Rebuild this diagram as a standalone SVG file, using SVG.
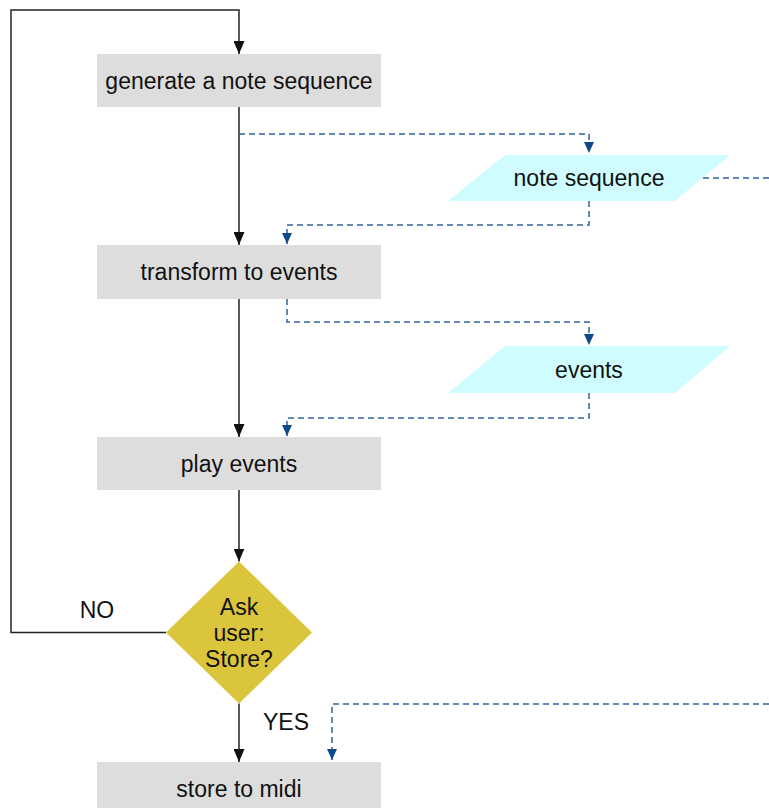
<svg xmlns="http://www.w3.org/2000/svg" width="769" height="808" viewBox="0 0 769 808">
<defs>
<style>
.box{fill:#dddddd;}
.data{fill:#cffcfe;}
.dec{fill:#dac53c;}
.t{font-family:"Liberation Sans",Arial,Helvetica,sans-serif;font-size:23px;fill:#111111;text-anchor:middle;dominant-baseline:central;}
.flow{fill:none;stroke:#222;stroke-width:1.5;}
.dash{fill:none;stroke:#30629c;stroke-width:1.5;stroke-dasharray:6 4;}
</style>
<marker id="ab" markerUnits="userSpaceOnUse" viewBox="0 0 13 11" markerWidth="13" markerHeight="11" refX="13" refY="5.5" orient="auto">
<path d="M0,0 L13,5.5 L0,11 z" fill="#111"/>
</marker>
<marker id="abl" markerUnits="userSpaceOnUse" viewBox="0 0 11 10" markerWidth="11" markerHeight="10" refX="11" refY="5" orient="auto">
<path d="M0,0 L11,5 L0,10 z" fill="#0d4a8c"/>
</marker>
</defs>
<rect width="769" height="808" fill="#ffffff"/>
<g id="connectors">
<polyline class="flow" points="166,632.5 11,632.5 11,10 239,10 239,54" marker-end="url(#ab)"/>
<line class="flow" x1="239" y1="107" x2="239" y2="245" marker-end="url(#ab)"/>
<line class="flow" x1="239" y1="299" x2="239" y2="437" marker-end="url(#ab)"/>
<line class="flow" x1="239" y1="490" x2="239" y2="561.5" marker-end="url(#ab)"/>
<line class="flow" x1="239" y1="703.5" x2="239" y2="762" marker-end="url(#ab)"/>
<path class="dash" d="M239,134 H589 V153" marker-end="url(#abl)"/>
<path class="dash" d="M589,201 V225 H287 V244" marker-end="url(#abl)"/>
<path class="dash" d="M703,178 H769"/>
<path class="dash" d="M287,299 V322 H589 V345" marker-end="url(#abl)"/>
<path class="dash" d="M589,393 V418 H287 V436" marker-end="url(#abl)"/>
<path class="dash" d="M769,704 H332 V760" marker-end="url(#abl)"/>
<text class="t" x="97" y="610">NO</text>
<text class="t" x="286" y="722">YES</text>
</g>
<g id="generate">
<rect class="box" x="97" y="54" width="284" height="53"/>
<text class="t" x="239" y="80.5">generate a note sequence</text>
</g>
<g id="note-sequence">
<polygon class="data" points="505,155 730,155 675,201 448,201"/>
<text class="t" x="589" y="178">note sequence</text>
</g>
<g id="transform">
<rect class="box" x="97" y="245" width="284" height="54"/>
<text class="t" x="239" y="272">transform to events</text>
</g>
<g id="events">
<polygon class="data" points="505,346 730,346 675,393 448,393"/>
<text class="t" x="589" y="369.5">events</text>
</g>
<g id="play">
<rect class="box" x="97" y="437" width="284" height="53"/>
<text class="t" x="239" y="463.5">play events</text>
</g>
<g id="ask">
<polygon class="dec" points="239,561.5 312,632.5 239,703.5 166,632.5"/>
<text class="t" x="239" y="607">Ask</text>
<text class="t" x="239" y="633">user:</text>
<text class="t" x="239" y="659">Store?</text>
</g>
<g id="store">
<rect class="box" x="97" y="762" width="284" height="53"/>
<text class="t" x="239" y="789">store to midi</text>
</g>
</svg>
